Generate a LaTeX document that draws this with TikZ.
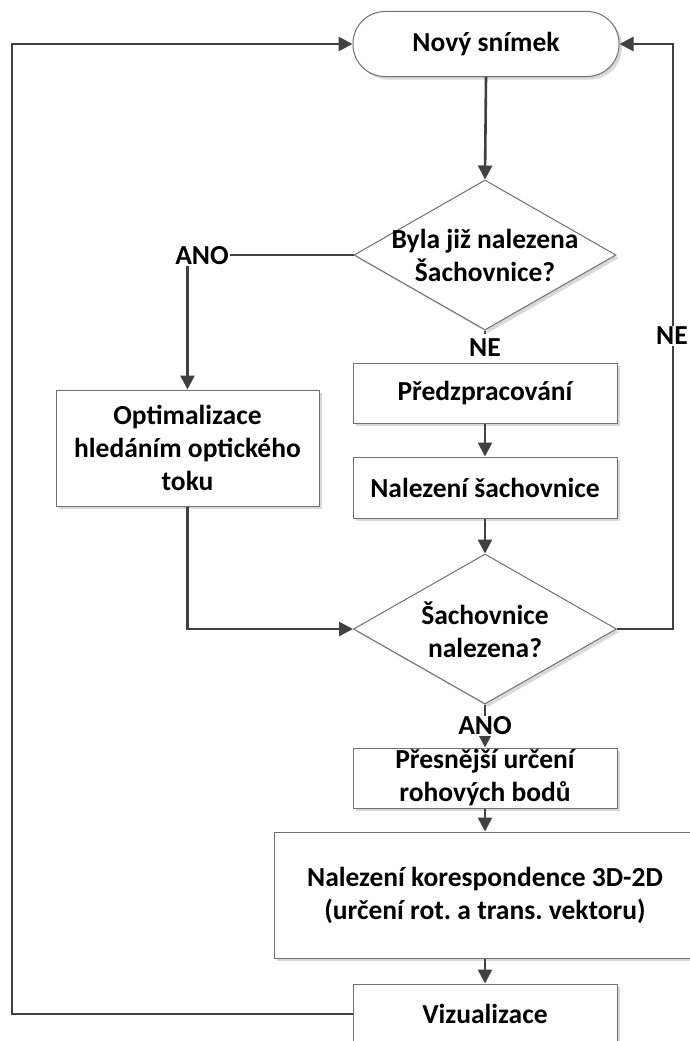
\documentclass[tikz,border=0pt]{standalone}
\usepackage{fontspec}
\setmainfont{Carlito}
\usetikzlibrary{shapes.geometric,arrows.meta,shadows}
\definecolor{conn}{HTML}{404040}
\definecolor{edge}{HTML}{707070}
\definecolor{shad}{HTML}{D9D9D9}
\frenchspacing
\tikzset{
  txt/.style={font=\fontsize{27.5}{33}\selectfont\bfseries\frenchspacing, align=center, text=black},
  shd/.style={drop shadow={shadow xshift=3pt, shadow yshift=-3pt, fill=shad, opacity=1}},
  procbox/.style={draw=edge, line width=1pt, fill=white, shd, rectangle, inner sep=0pt, txt},
  termbox/.style={procbox, rounded corners=32pt},
  decbox/.style={draw=edge, line width=1pt, fill=white, shd, diamond, inner sep=0pt, aspect=1.75},
  conline/.style={draw=conn, line width=2.6pt},
  arr/.style={conline, -{Triangle[length=14pt,width=14pt]}},
  lbl/.style={txt, fill=white, inner sep=1pt},
}
\begin{document}
\begin{tikzpicture}[x=1pt,y=-1pt]
\useasboundingbox (0,0) rectangle (690,1041);
\clip (0,0) rectangle (690,1041);
\fill[white] (0,0) rectangle (690,1041);

% shapes
\node[termbox, minimum width=266pt, minimum height=65pt] (start) at (486,44) {Nový snímek};
\node[decbox, minimum width=262pt, minimum height=150pt] (d1) at (485,255) {};
\node[txt] (d1t) at (485,255) {Byla již nalezena\\Šachovnice?};
\node[procbox, minimum width=263pt, minimum height=116pt] (opt) at (187.5,448) {Optimalizace\\hledáním optického\\toku};
\node[procbox, minimum width=264pt, minimum height=60pt] (pre) at (485,393) {Předzpracování};
\node[procbox, minimum width=264pt, minimum height=61pt] (find) at (485,487.5) {Nalezení šachovnice};
\node[decbox, minimum width=263pt, minimum height=150pt] (d2) at (485,629) {};
\node[txt] (d2t) at (485,630) {Šachovnice\\nalezena?};
\node[procbox, minimum width=264pt, minimum height=60pt] (ref) at (485,778) {\fontsize{27.5}{31}\selectfont Přesnější určení\\rohových bodů};
\node[procbox, minimum width=422pt, minimum height=126pt] (corr) at (485,895) {Nalezení korespondence 3D-2D\\(určení rot. a trans. vektoru)};
\node[procbox, minimum width=264pt, minimum height=60pt] (viz) at (485,1014) {Vizualizace};

\coordinate (L) at (12,44);
\coordinate (R) at (673,44);

% connectors
\draw[arr] (start.south) -- (d1.north);
\draw[arr] (d1.west) -| (opt.north);
\draw[arr] (d1.south) -- (pre.north);
\draw[arr] (pre.south) -- (find.north);
\draw[arr] (find.south) -- (d2.north);
\draw[arr] (opt.south) |- (d2.west);
\draw[arr] (d2.east) -| (R) -- (start.east);
\draw[arr] (d2.south) -- (ref.north);
\draw[arr] (ref.south) -- (corr.north);
\draw[arr] (corr.south) -- (viz.north);
\draw[arr] (viz.west) -| (L) -- (start.west);

% labels
\node[lbl] (ano1) at (202,256) {ANO};
\node[lbl, inner ysep=5pt] (ne1) at (485,348) {NE};
\node[lbl] (ne2) at (672,336) {NE};
\node[lbl] (ano2) at (485,726) {ANO};
\end{tikzpicture}
\end{document}
